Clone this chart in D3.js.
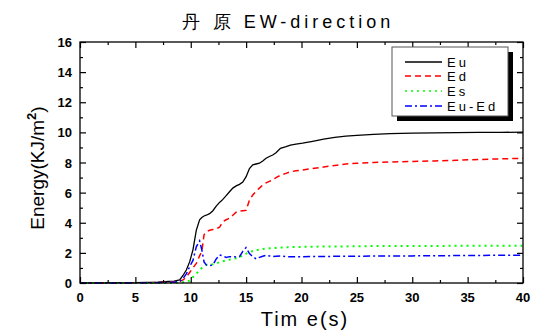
<!DOCTYPE html>
<html>
<head>
<meta charset="utf-8">
<script src="https://cdn.jsdelivr.net/npm/d3@7"></script>
<style>
  body { margin: 0; background: #fff; }
  text { font-family: "Liberation Sans", Arial, sans-serif; }
</style>
</head>
<body>
<script>
// time axis (s), shared by all series
const time = [0, 5, 7, 8, 8.5, 9, 9.3, 9.6, 9.9, 10.2, 10.5, 10.8, 11.0, 11.2, 11.4, 11.7, 12.0, 12.3, 12.6, 12.9,
  13.2, 13.5, 13.8, 14.1, 14.4, 14.7, 15.0, 15.3, 15.6, 15.9, 16.2, 16.5, 16.8, 17.1, 17.4, 17.7, 18.1, 18.6, 19.0,
  19.5, 20.1, 21, 22, 23, 24, 25, 26.5, 28, 30, 32, 34, 36, 38, 40];

const Eu = [0, 0.02, 0.05, 0.1, 0.12, 0.2, 0.5, 0.86, 1.4, 2.2, 3.5, 4.2, 4.35, 4.45, 4.5, 4.6, 4.8, 5.1, 5.35, 5.55,
  5.8, 6.06, 6.3, 6.45, 6.55, 6.7, 7.06, 7.6, 7.85, 7.9, 7.95, 8.1, 8.28, 8.4, 8.5, 8.65, 8.94, 9.05, 9.16,
  9.22, 9.28, 9.4, 9.55, 9.67, 9.75, 9.8, 9.87, 9.92, 9.95, 9.97, 9.98, 10.0, 10.0, 10.02];

const Ed = [0, 0.01, 0.03, 0.06, 0.08, 0.1, 0.2, 0.4, 0.7, 1.0, 1.3, 1.8, 2.1, 3.2, 3.4, 3.5, 3.55, 3.6, 3.7, 4.07,
  4.2, 4.3, 4.5, 4.7, 4.78, 4.8, 4.82, 5.5, 5.84, 6.1, 6.3, 6.5, 6.65, 6.75, 6.84, 7.0, 7.15, 7.28, 7.38,
  7.45, 7.5, 7.6, 7.7, 7.8, 7.9, 7.95, 8.0, 8.03, 8.07, 8.1, 8.15, 8.2, 8.24, 8.28];

const Es = [0, 0, 0, 0.01, 0.02, 0.03, 0.05, 0.1, 0.15, 0.4, 0.6, 0.86, 1.0, 1.1, 1.2, 1.22, 1.25, 1.3, 1.38, 1.45,
  1.5, 1.55, 1.6, 1.64, 1.7, 1.86, 1.95, 2.05, 2.12, 2.19, 2.22, 2.25, 2.28, 2.3, 2.32, 2.33, 2.36, 2.37, 2.38,
  2.39, 2.4, 2.41, 2.42, 2.43, 2.43, 2.44, 2.45, 2.45, 2.46, 2.46, 2.47, 2.47, 2.48, 2.48];

const EuEd = [0, 0.01, 0.02, 0.04, 0.05, 0.1, 0.3, 0.6, 1.08, 1.5, 2.4, 2.8, 2.2, 1.4, 1.2, 1.15, 1.2, 1.6, 1.86, 1.8,
  1.7, 1.75, 1.75, 1.72, 1.75, 2.1, 2.35, 1.95, 1.75, 1.6, 1.7, 1.78, 1.84, 1.8, 1.75, 1.78, 1.8, 1.75, 1.74,
  1.75, 1.75, 1.76, 1.76, 1.77, 1.78, 1.78, 1.79, 1.8, 1.8, 1.81, 1.82, 1.83, 1.84, 1.85];

const seriesNames = ["Eu", "Ed", "Es", "Eu-Ed"];
const xTicks = [0, 5, 10, 15, 20, 25, 30, 35, 40];
const yTicks = [0, 2, 4, 6, 8, 10, 12, 14, 16];

const width = 544, height = 332;
const pLeft = 80, pRight = 523, pTop = 42, pBottom = 283;

const svg = d3.select("body").append("svg")
  .attr("width", width)
  .attr("height", height);

const x = d3.scaleLinear().domain([0, 40]).range([pLeft, pRight]);
const y = d3.scaleLinear().domain([0, 16]).range([pBottom, pTop]);

const styles = [
  { color: "#000000", dash: null, w: 1.3 },
  { color: "#ff0000", dash: "6,4", w: 1.5 },
  { color: "#00ff00", dash: "2,4", w: 2 },
  { color: "#0000ff", dash: "7,3,2,3", w: 1.5 }
];
const values = [Eu, Ed, Es, EuEd];

// curves
const line = d3.line().x((d, i) => x(time[i])).y(d => y(d));
values.forEach((vals, k) => {
  svg.append("path")
    .datum(vals)
    .attr("d", line)
    .attr("fill", "none")
    .attr("stroke", styles[k].color)
    .attr("stroke-width", styles[k].w)
    .attr("stroke-dasharray", styles[k].dash);
});

// frame with inward ticks on all sides
svg.append("rect")
  .attr("x", pLeft).attr("y", pTop)
  .attr("width", pRight - pLeft).attr("height", pBottom - pTop)
  .attr("fill", "none").attr("stroke", "#000").attr("stroke-width", 1.3);

const xMinor = d3.range(2.5, 40, 5);
const yMinor = d3.range(1, 16, 2);

function ticks(axis, pos, vals, size) {
  svg.append("g").attr("transform", pos)
    .call(axis.tickValues(vals).tickSize(size).tickFormat(""))
    .call(g => g.select(".domain").remove());
}
ticks(d3.axisTop(x), `translate(0,${pBottom})`, xTicks, 6);
ticks(d3.axisTop(x), `translate(0,${pBottom})`, xMinor, 3);
ticks(d3.axisBottom(x), `translate(0,${pTop})`, xTicks, 6);
ticks(d3.axisBottom(x), `translate(0,${pTop})`, xMinor, 3);
ticks(d3.axisRight(y), `translate(${pLeft},0)`, yTicks, 6);
ticks(d3.axisRight(y), `translate(${pLeft},0)`, yMinor, 3);
ticks(d3.axisLeft(y), `translate(${pRight},0)`, yTicks, 6);
ticks(d3.axisLeft(y), `translate(${pRight},0)`, yMinor, 3);
svg.selectAll(".tick line").attr("stroke", "#000").attr("stroke-width", 1.2);

// tick labels
svg.append("g").selectAll("text")
  .data(xTicks).enter().append("text")
  .attr("x", d => x(d))
  .attr("y", 302)
  .attr("text-anchor", "middle")
  .attr("font-size", 13).attr("font-weight", "bold")
  .text(d => d);
svg.append("g").selectAll("text")
  .data(yTicks).enter().append("text")
  .attr("x", 72)
  .attr("y", d => y(d) + 5)
  .attr("text-anchor", "end")
  .attr("font-size", 13).attr("font-weight", "bold")
  .text(d => d);

// titles
svg.append("text")
  .attr("x", 288).attr("y", 28)
  .attr("text-anchor", "middle")
  .attr("font-size", 18)
  .attr("letter-spacing", 4)
  .text("丹 原  EW-direction");

svg.append("text")
  .attr("x", 305).attr("y", 326)
  .attr("text-anchor", "middle")
  .attr("font-size", 20)
  .attr("letter-spacing", 2)
  .text("Tim e(s)");

const yl = svg.append("text")
  .attr("transform", "translate(44,168) rotate(-90)")
  .attr("text-anchor", "middle")
  .attr("font-size", 19);
yl.append("tspan").text("Energy(KJ/m");
yl.append("tspan").attr("dy", -8).attr("font-size", 13).attr("font-weight", "bold").text("2");
yl.append("tspan").attr("dy", 8).text(")");

// legend
const lg = svg.append("g");
lg.append("rect").attr("x", 397).attr("y", 52).attr("width", 116).attr("height", 69).attr("fill", "#000");
lg.append("rect").attr("x", 392).attr("y", 47).attr("width", 116).attr("height", 69)
  .attr("fill", "#fff").attr("stroke", "#555").attr("stroke-width", 1);
const legY = [62, 76, 91, 106];
seriesNames.forEach((name, k) => {
  lg.append("line")
    .attr("x1", 405).attr("x2", 442)
    .attr("y1", legY[k]).attr("y2", legY[k])
    .attr("stroke", styles[k].color)
    .attr("stroke-width", 1.3)
    .attr("stroke-dasharray", styles[k].dash);
  lg.append("text")
    .attr("x", 447).attr("y", legY[k] + 5)
    .attr("font-size", 13)
    .attr("letter-spacing", 3)
    .text(name);
});
</script>
</body>
</html>
